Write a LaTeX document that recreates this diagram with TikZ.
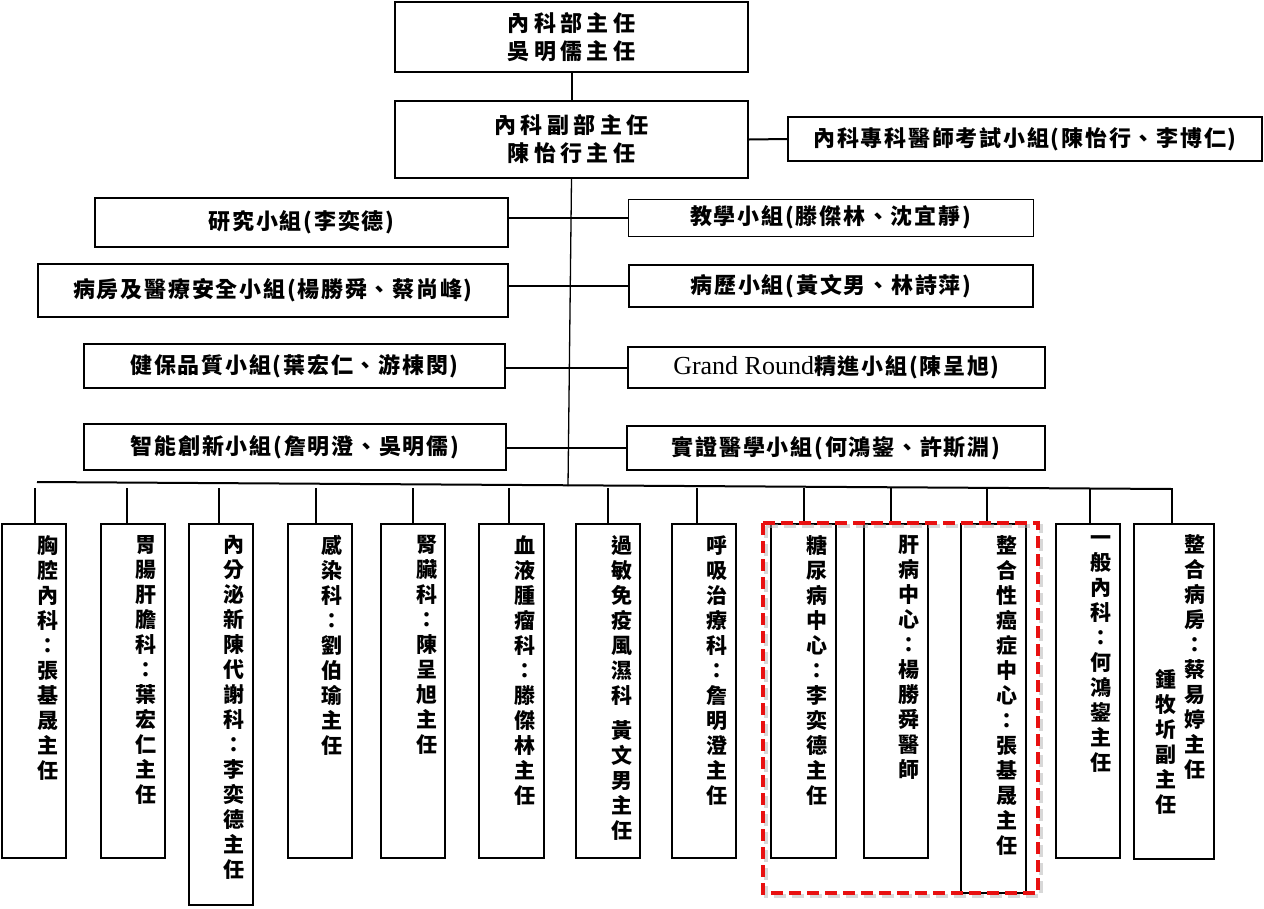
\documentclass[tikz,border=0pt]{standalone}
\usepackage{fontspec}
\setmainfont{Noto Sans CJK TC}
\newfontfamily\headfont[LetterSpace=20]{Noto Sans CJK TC}
\newfontfamily\rowfont[LetterSpace=8]{Noto Sans CJK TC}
\newfontfamily\latinfont{Liberation Serif}
\definecolor{focusred}{RGB}{232,16,16}
\tikzset{
  box/.style={draw, line width=2pt, inner sep=0pt, align=center},
  headbox/.style={box, minimum width=353pt, font=\headfont\bfseries\fontsize{22}{28}\selectfont},
  groupbox/.style={box, font=\rowfont\bfseries\fontsize{22}{24}\selectfont},
  colbox/.style={draw, line width=2pt, inner sep=0pt, anchor=north},
  coltext/.style={anchor=north, inner sep=0pt, align=center, font=\bfseries\fontsize{21}{25}\selectfont},
  link/.style={line width=2pt},
  trunk/.style={line width=1.3pt},
  focus/.style={draw=focusred, line width=3.5pt, dash pattern=on 12pt off 6pt},
  focusshadow/.style={draw=black!30, opacity=0.5, line width=3.5pt, dash pattern=on 12pt off 6pt},
}
\begin{document}
\begin{tikzpicture}[x=1pt,y=-1pt]
  \useasboundingbox (0,0) rectangle (1264,908);
  % top of the chart
  \node[headbox, minimum height=70pt] (chief) at (571.5,37) {內科部主任\\吳明儒主任};
  \node[headbox, minimum height=77pt] (deputy) at (571.5,139.5) {內科副部主任\\陳怡行主任};
  \node[groupbox, minimum width=474pt, minimum height=44pt] (exam) at (1025,139) {內科專科醫師考試小組(陳怡行、李博仁)};
  \draw[link] (chief) -- (deputy);
  \draw[link] (deputy.east) -- (exam.west);

  % working groups
  \node[groupbox, minimum width=413pt, minimum height=49pt] (research) at (301.5,222.5) {研究小組(李奕德)};
  \node[groupbox, line width=0.8pt, minimum width=405pt, minimum height=37pt] (teach) at (830.5,217.5) {教學小組(滕傑林、沈宜靜)};
  \node[groupbox, minimum width=470pt, minimum height=53pt] (ward) at (273,290.5) {病房及醫療安全小組(楊勝舜、蔡尚峰)};
  \node[groupbox, minimum width=404pt, minimum height=42pt] (record) at (831,286) {病歷小組(黃文男、林詩萍)};
  \node[groupbox, minimum width=421pt, minimum height=44pt] (quality) at (294.5,366) {健保品質小組(葉宏仁、游棟閔)};
  \node[groupbox, minimum width=417pt, minimum height=41pt] (grand) at (836.5,367.5) {{\latinfont\mdseries\fontsize{26}{26}\selectfont Grand Round}精進小組(陳呈旭)};
  \node[groupbox, minimum width=422pt, minimum height=46pt] (innov) at (295,447) {智能創新小組(詹明澄、吳明儒)};
  \node[groupbox, minimum width=418pt, minimum height=44pt] (ebm) at (836,448) {實證醫學小組(何鴻鋆、許斯淵)};
  \draw[link] (research.east |- teach.west) -- (teach.west);
  \draw[link] (ward.east |- record.west) -- (record.west);
  \draw[link] (quality.east |- grand.west) -- (grand.west);
  \draw[link] (innov.east |- ebm.west) -- (ebm.west);

  % trunk and bus
  \coordinate (trunkend) at (568,486);
  \coordinate (busL) at (37,482);
  \coordinate (busR) at (1172,489);
  \draw[trunk] (deputy.south) -- (trunkend);
  \draw[link] (busL) -- (busR);

  % divisions
  \foreach \n/\x/\w/\h/\d in {1/34/64/334/1, 2/133/64/334/-6, 3/221/64/381/-2,
      4/320/64/334/-4, 5/413/64/334/0, 6/511.5/65/334/-2.5, 7/608/64/334/0,
      8/704/64/334/-7, 9/803.5/65/334/0, 10/896/64/334/-5, 11/993.5/65/369/-6.5,
      12/1088/64/334/2, 13/1174/80/335/-2} {
    \node[colbox, minimum width=\w pt, minimum height=\h pt] (c\n) at (\x,523) {};
    \draw[link] ([xshift=\d pt]c\n.north) -- ++(0,-35);
  }
  \node[coltext] (t1) at ([xshift=14pt,yshift=-12pt]c1.north) {胸\\腔\\內\\科\\：\\張\\基\\晟\\主\\任};
  \node[coltext] (t2) at ([xshift=13pt,yshift=-12pt]c2.north) {胃\\腸\\肝\\膽\\科\\：\\葉\\宏\\仁\\主\\任};
  \node[coltext] (t3) at ([xshift=13pt,yshift=-12pt]c3.north) {內\\分\\泌\\新\\陳\\代\\謝\\科\\：\\李\\奕\\德\\主\\任};
  \node[coltext] (t4) at ([xshift=12pt,yshift=-12pt]c4.north) {感\\染\\科\\：\\劉\\伯\\瑜\\主\\任};
  \node[coltext] (t5) at ([xshift=14pt,yshift=-12pt]c5.north) {腎\\臟\\科\\：\\陳\\呈\\旭\\主\\任};
  \node[coltext] (t6) at ([xshift=13pt,yshift=-12pt]c6.north) {血\\液\\腫\\瘤\\科\\：\\滕\\傑\\林\\主\\任};
  \node[coltext] (t7) at ([xshift=14pt,yshift=-12pt]c7.north) {過\\敏\\免\\疫\\風\\濕\\科\\[10pt]黃\\文\\男\\主\\任};
  \node[coltext] (t8) at ([xshift=13pt,yshift=-12pt]c8.north) {呼\\吸\\治\\療\\科\\：\\詹\\明\\澄\\主\\任};
  \node[coltext] (t9) at ([xshift=13pt,yshift=-12pt]c9.north) {糖\\尿\\病\\中\\心\\：\\李\\奕\\德\\主\\任};
  \node[coltext] (t10) at ([xshift=13pt,yshift=-12pt]c10.north) {肝\\病\\中\\心\\：\\楊\\勝\\舜\\醫\\師};
  \node[coltext] (t11) at ([xshift=13pt,yshift=-12pt]c11.north) {整\\合\\性\\癌\\症\\中\\心\\：\\張\\基\\晟\\主\\任};
  \node[coltext] (t12) at ([xshift=13pt,yshift=-12pt]c12.north) {一\\般\\內\\科\\：\\何\\鴻\\鋆\\主\\任};
  \node[coltext] (t13) at ([xshift=21pt,yshift=-11pt]c13.north) {整\\合\\病\\房\\：\\蔡\\易\\婷\\主\\任};
  \node[coltext] (t13b) at ([xshift=-8pt,yshift=-146pt]c13.north) {鍾\\牧\\圻\\副\\主\\任};

  % centres group
  \draw[focusshadow] (766,526) rectangle (1041,896);
  \draw[focus] (763,523) rectangle (1038,893);
\end{tikzpicture}
\end{document}
